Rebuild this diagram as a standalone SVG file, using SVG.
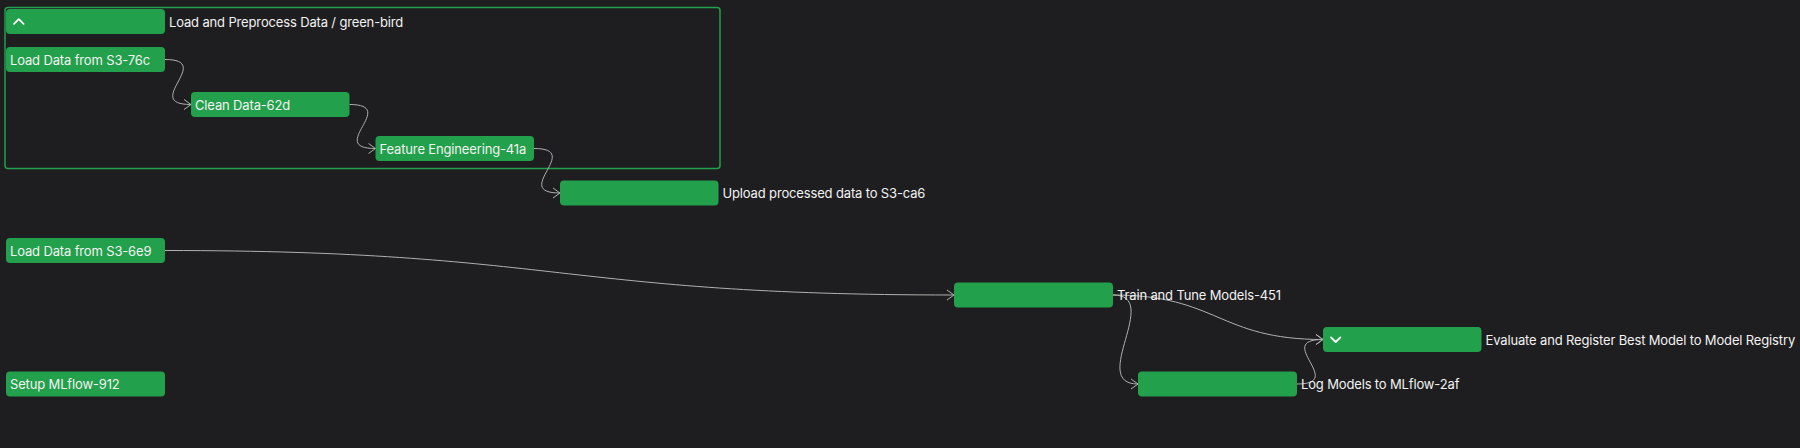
<svg xmlns="http://www.w3.org/2000/svg" width="1800" height="448" viewBox="0 0 1800 448">
  <defs>
    <style>
      .node { fill: #22a04b; }
      .group { fill: none; stroke: #22a04b; stroke-width: 1.5; }
      .t { font-family: Inter, "Noto Sans", "Liberation Sans", sans-serif; font-size: 13px; letter-spacing: -0.15px; fill: #f2f2f2; }
      .edge { fill: none; stroke: #b0b0b0; stroke-width: 1; marker-end: url(#arrow); }
      .chev { fill: none; stroke: #ffffff; stroke-width: 1.8; stroke-linecap: round; stroke-linejoin: round; }
    </style>
    <marker id="arrow" markerUnits="userSpaceOnUse" viewBox="-8 -6 9 12" refX="0" refY="0" markerWidth="9" markerHeight="12" orient="auto">
      <path d="M-7,-5 L0,0 L-7,5" fill="none" stroke="#b0b0b0" stroke-width="1"/>
    </marker>
  </defs>
  <rect x="0" y="0" width="1800" height="448" fill="#1e1e20"/>

  <g id="group-load-preprocess">
    <rect class="group" x="5" y="7.5" width="715" height="161" rx="3"/>
  </g>

  <g id="connectors">
    <path class="edge" d="M165,59.5 C215,59.5 141,104.5 191,104.5"/>
    <path class="edge" d="M349.5,104.5 C399.5,104.5 325.5,148.5 375.5,148.5"/>
    <path class="edge" d="M534,148.5 C584,148.5 510,193 560,193"/>
    <path class="edge" d="M165,250.5 C559.5,250.5 559.5,295 954,295"/>
    <path class="edge" d="M1113,295 C1163,295 1088,384 1138,384"/>
    <path class="edge" d="M1113,295 C1218,295 1218,339.5 1323,339.5"/>
    <path class="edge" d="M1297,384 C1347,384 1273,339.5 1323,339.5"/>
  </g>

  <g id="node-group-header">
    <rect class="node" x="6" y="9" width="159" height="25" rx="4"/>
    <polyline class="chev" points="14,23.8 18.8,19.2 23.6,23.8"/>
    <text class="t" x="169" y="26.5">Load and Preprocess Data / green-bird</text>
  </g>

  <g id="node-load-76c">
    <rect class="node" x="6" y="47" width="159" height="25" rx="4"/>
    <text class="t" x="10" y="64.5">Load Data from S3-76c</text>
  </g>

  <g id="node-clean-62d">
    <rect class="node" x="191" y="92" width="158.5" height="25" rx="4"/>
    <text class="t" x="195" y="109.5">Clean Data-62d</text>
  </g>

  <g id="node-feature-41a">
    <rect class="node" x="375.5" y="136" width="158.5" height="25" rx="4"/>
    <text class="t" x="379.5" y="153.5">Feature Engineering-41a</text>
  </g>

  <g id="node-upload-ca6">
    <rect class="node" x="560" y="180.5" width="158.5" height="25" rx="4"/>
    <text class="t" x="722.5" y="198">Upload processed data to S3-ca6</text>
  </g>

  <g id="node-load-6e9">
    <rect class="node" x="6" y="238" width="159" height="25" rx="4"/>
    <text class="t" x="10" y="255.5">Load Data from S3-6e9</text>
  </g>

  <g id="node-train-451">
    <rect class="node" x="954" y="282.5" width="159" height="25" rx="4"/>
    <text class="t" x="1117" y="300">Train and Tune Models-451</text>
  </g>

  <g id="node-evaluate">
    <rect class="node" x="1323" y="327" width="158.5" height="25" rx="4"/>
    <polyline class="chev" points="1331,337.4 1335.7,342 1340.4,337.4"/>
    <text class="t" x="1485.5" y="344.5">Evaluate and Register Best Model to Model Registry</text>
  </g>

  <g id="node-log-2af">
    <rect class="node" x="1138" y="371.5" width="159" height="25" rx="4"/>
    <text class="t" x="1301" y="389">Log Models to MLflow-2af</text>
  </g>

  <g id="node-setup-912">
    <rect class="node" x="6" y="371.5" width="159" height="25" rx="4"/>
    <text class="t" x="10" y="389">Setup MLflow-912</text>
  </g>
</svg>
